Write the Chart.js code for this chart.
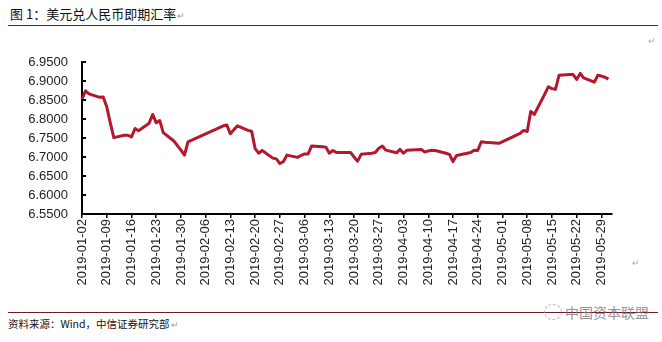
<!DOCTYPE html>
<html><head><meta charset="utf-8">
<script src="https://cdn.jsdelivr.net/npm/chart.js@4/dist/chart.umd.min.js"></script>
<style>
body{margin:0;width:662px;height:342px;background:#fff;position:relative;overflow:hidden;font-family:"Liberation Sans",Arial,"Noto Sans CJK SC",sans-serif;}
#title{position:absolute;left:10px;top:5px;font-family:"Noto Sans CJK SC",sans-serif;font-size:13px;color:#111;line-height:18px;white-space:nowrap;}
.rule{position:absolute;left:8px;width:650px;height:1px;background:#6e1c26;}
#wrap{position:absolute;left:0;top:40px;width:662px;height:250px;}
#src{position:absolute;left:8px;top:316px;font-family:"Noto Sans CJK SC",sans-serif;font-size:10.5px;color:#111;line-height:16px;white-space:nowrap;}
.pm{color:#999;font-size:9px;margin-left:1px;}
#wm{position:absolute;left:565px;top:302px;font-family:"Noto Sans CJK SC",sans-serif;font-size:14px;color:rgba(120,120,120,0.8);white-space:nowrap;}
#wmlogo{position:absolute;left:544px;top:304px;width:16px;height:14px;border:1px dashed rgba(150,150,150,0.7);border-radius:50%;}
.pm2{position:absolute;color:#aaa;font-size:9px;}
</style></head><body>
<div id="title">图 1：美元兑人民币即期汇率<span class="pm">↵</span></div>
<div class="rule" style="top:25px"></div>
<div id="wrap"><canvas id="c" width="662" height="250"></canvas></div>
<div class="pm2" style="left:648px;top:36px">↵</div>
<div class="pm2" style="left:632px;top:258px">↵</div>
<div class="rule" style="top:312px"></div>
<div id="src">资料来源：Wind，中信证券研究部<span class="pm">↵</span></div>
<div id="wmlogo"></div>
<div id="wm">中国资本联盟</div>
<script>
const dates = [
"2019-01-02","2019-01-03","2019-01-04","2019-01-07","2019-01-08","2019-01-09","2019-01-10","2019-01-11",
"2019-01-14","2019-01-15","2019-01-16","2019-01-17","2019-01-18","2019-01-21","2019-01-22","2019-01-23",
"2019-01-24","2019-01-25","2019-01-28","2019-01-29","2019-01-30","2019-01-31","2019-02-01",
"2019-02-11","2019-02-12","2019-02-13","2019-02-14","2019-02-15","2019-02-18","2019-02-19","2019-02-20",
"2019-02-21","2019-02-22","2019-02-25","2019-02-26","2019-02-27","2019-02-28",
"2019-03-01","2019-03-04","2019-03-05","2019-03-06","2019-03-07","2019-03-08","2019-03-11","2019-03-12",
"2019-03-13","2019-03-14","2019-03-15","2019-03-18","2019-03-19","2019-03-20","2019-03-21","2019-03-22",
"2019-03-25","2019-03-26","2019-03-27","2019-03-28","2019-03-29",
"2019-04-01","2019-04-02","2019-04-03","2019-04-04","2019-04-08","2019-04-09","2019-04-10","2019-04-11",
"2019-04-12","2019-04-15","2019-04-16","2019-04-17","2019-04-18","2019-04-19","2019-04-22","2019-04-23",
"2019-04-24","2019-04-25","2019-04-26","2019-04-29","2019-04-30",
"2019-05-06","2019-05-07","2019-05-08","2019-05-09","2019-05-10","2019-05-13","2019-05-14","2019-05-15",
"2019-05-16","2019-05-17","2019-05-20","2019-05-21","2019-05-22","2019-05-23","2019-05-24","2019-05-27",
"2019-05-28","2019-05-29","2019-05-30","2019-05-31"
];
const rates = [
6.852,6.874,6.866,6.857,6.858,6.832,6.790,6.751,
6.757,6.757,6.753,6.775,6.769,6.789,6.812,6.790,
6.796,6.764,6.742,6.730,6.718,6.705,6.740,
6.782,6.784,6.761,6.772,6.782,6.770,6.768,6.722,
6.710,6.717,6.697,6.695,6.683,6.688,
6.705,6.699,6.704,6.708,6.708,6.729,6.727,6.726,
6.710,6.717,6.712,6.712,6.712,6.700,6.689,6.707,
6.710,6.712,6.723,6.729,6.718,
6.711,6.720,6.710,6.718,6.720,6.713,6.716,6.718,
6.717,6.710,6.707,6.688,6.704,6.706,6.712,6.718,
6.717,6.740,6.739,6.737,6.736,
6.762,6.770,6.767,6.820,6.812,6.866,6.885,6.880,
6.878,6.915,6.917,6.917,6.904,6.920,6.908,6.897,
6.915,6.913,6.910,6.905
];
const xTickLabels = ["2019-01-02","2019-01-09","2019-01-16","2019-01-23","2019-01-30","2019-02-06",
"2019-02-13","2019-02-20","2019-02-27","2019-03-06","2019-03-13","2019-03-20","2019-03-27","2019-04-03",
"2019-04-10","2019-04-17","2019-04-24","2019-05-01","2019-05-08","2019-05-15","2019-05-22","2019-05-29"];
const yTicks = [6.55,6.60,6.65,6.70,6.75,6.80,6.85,6.90,6.95];

const day0 = Date.parse(dates[0]);
const dayOf = d => Math.round((Date.parse(d) - day0) / 86400000);
const points = dates.map((d,i) => ({x: dayOf(d), y: rates[i]}));

Chart.defaults.font.family = '"Liberation Sans", Arial, sans-serif';
const yInsideTicks = {
  id:'yInsideTicks',
  afterDraw(chart){
    const y = chart.scales.y, ctx = chart.ctx, left = chart.chartArea.left;
    ctx.save(); ctx.strokeStyle='#000'; ctx.lineWidth=2;
    yTicks.forEach(v => { const p = Math.round(y.getPixelForValue(v));
      ctx.beginPath(); ctx.moveTo(left, p); ctx.lineTo(left+4, p); ctx.stroke(); });
    ctx.restore();
  }
};
new Chart(document.getElementById('c'), {
  type:'line',
  data:{datasets:[{data:points, borderColor:'#b3182c', borderWidth:3, pointRadius:0, tension:0,
    borderJoinStyle:'round', fill:false, clip:false}]},
  options:{
    responsive:false, animation:false, devicePixelRatio:1,
    layout:{padding:{top:22,right:50,left:0,bottom:0}},
    plugins:{legend:{display:false}, tooltip:{enabled:false}},
    scales:{
      x:{type:'linear', min:0, max:150,
        afterBuildTicks:s=>{ s.ticks = xTickLabels.map((_,i)=>({value:i*7})); },
        afterFit:s=>{ s.height = 76; },
        ticks:{autoSkip:false, maxRotation:90, minRotation:90, padding:1, color:'#222', font:{size:13},
          callback:v=>xTickLabels[Math.round(v/7)]},
        grid:{drawOnChartArea:false, drawTicks:true, tickLength:4, color:'#000', lineWidth:1.5},
        border:{color:'#000', width:2}},
      y:{min:6.55, max:6.95,
        afterBuildTicks:s=>{ s.ticks = yTicks.map(v=>({value:v})); },
        afterFit:s=>{ s.width = 82; },
        ticks:{padding:14, color:'#222', font:{size:13}, callback:v=>Number(v).toFixed(4)},
        grid:{drawOnChartArea:false, drawTicks:false},
        border:{color:'#000', width:2}}
    }
  },
  plugins:[yInsideTicks]
});
</script>
</body></html>
